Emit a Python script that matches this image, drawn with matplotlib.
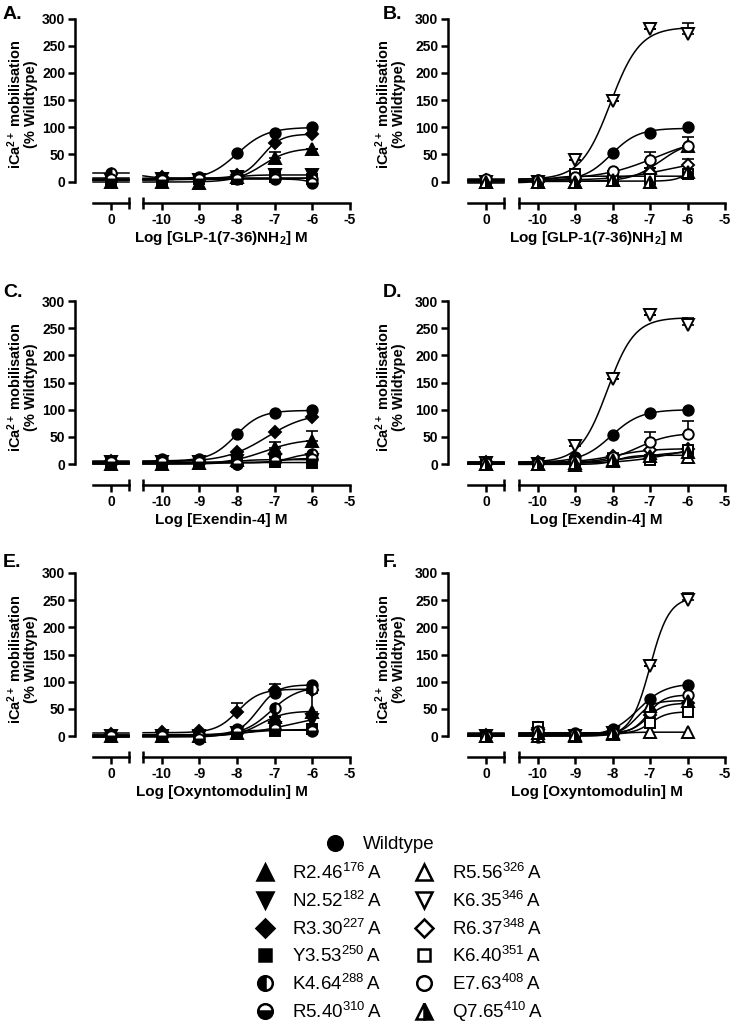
import numpy as np
import matplotlib
matplotlib.use('Agg')
import matplotlib.pyplot as plt

plt.rcParams['font.family'] = ['Liberation Sans', 'DejaVu Sans']
plt.rcParams['mathtext.fontset'] = 'custom'
plt.rcParams['mathtext.rm'] = 'Liberation Sans'
plt.rcParams['mathtext.bf'] = 'Liberation Sans:bold'
plt.rcParams['mathtext.it'] = 'Liberation Sans:italic'

########################################## Dados ##########################################
# log [agonist] M ; first value of each list is the basal point (plotted at "0")
log_conc = [-10, -9, -8, -7, -6]

mutants_filled = ['R2.46', 'N2.52', 'R3.30', 'Y3.53', 'K4.64', 'R5.40']
mutants_open = ['R5.56', 'K6.35', 'R6.37', 'K6.40', 'E7.63', 'Q7.65']
residue_num = {'R2.46': 176, 'N2.52': 182, 'R3.30': 227, 'Y3.53': 250, 'K4.64': 288, 'R5.40': 310,
               'R5.56': 326, 'K6.35': 346, 'R6.37': 348, 'K6.40': 351, 'E7.63': 408, 'Q7.65': 410}

# A - GLP-1(7-36)NH2, filled mutants
glp_filled = {
    'Wildtype': [2, 5, 8, 52, 90, 101],
    'R2.46': [0, 0, -3, 8, 43, 60],
    'N2.52': [3, 5, 3, 8, 12, 12],
    'R3.30': [5, 8, 5, 12, 70, 87],
    'Y3.53': [3, 3, 5, 5, 8, 5],
    'K4.64': [15, 5, 5, 8, 8, 5],
    'R5.40': [5, 3, 5, 5, 5, -3],
}
glp_filled_err = {'R2.46': [0, 0, 0, 0, 12, 0]}

# B - GLP-1(7-36)NH2, open mutants
glp_open = {
    'Wildtype': [2, 3, 5, 53, 90, 100],
    'R5.56': [0, 0, 0, 3, 25, 65],
    'K6.35': [0, 0, 40, 148, 280, 272],
    'R6.37': [2, 0, 5, 8, 15, 30],
    'K6.40': [-2, 0, 13, 8, 5, 13],
    'E7.63': [5, 3, 8, 20, 39, 66],
    'Q7.65': [0, 0, 0, 3, 0, 18],
}
glp_open_err = {'R5.56': [0, 0, 0, 0, 0, 17], 'K6.35': [0, 0, 0, 0, 0, 20],
                'R6.37': [0, 0, 0, 0, 0, 12], 'E7.63': [0, 0, 0, 0, 16, 0]}

# C - Exendin-4, filled mutants
ex4_filled = {
    'Wildtype': [2, 10, 10, 55, 94, 99],
    'R2.46': [0, 0, 2, 8, 30, 43],
    'N2.52': [3, 3, 3, 5, 8, 8],
    'R3.30': [5, 5, 5, 22, 58, 86],
    'Y3.53': [0, 0, 0, 3, 3, 2],
    'K4.64': [5, 3, 3, 0, 5, 18],
    'R5.40': [3, 3, 3, 0, 5, 10],
}
ex4_filled_err = {'R2.46': [0, 0, 0, 0, 10, 17], 'K4.64': [8, 0, 0, 0, 0, 0]}

# D - Exendin-4, open mutants
ex4_open = {
    'Wildtype': [3, 3, 12, 54, 94, 99],
    'R5.56': [0, 0, -2, 5, 20, 12],
    'K6.35': [2, 0, 34, 157, 274, 256],
    'R6.37': [3, 3, 5, 15, 25, 28],
    'K6.40': [-2, -2, 3, 10, 8, 25],
    'E7.63': [2, 2, 5, 12, 40, 55],
    'Q7.65': [0, 0, 2, 8, 15, 22],
}
ex4_open_err = {'K6.35': [0, 0, 0, 0, 0, 12], 'K6.40': [0, 0, 0, 0, 0, 7],
                'E7.63': [0, 0, 0, 0, 18, 25], 'Q7.65': [0, 0, 0, 12, 0, 0]}

# E - Oxyntomodulin, filled mutants
oxm_filled = {
    'Wildtype': [2, 2, 3, 12, 80, 94],
    'R2.46': [0, 0, 0, 5, 35, 45],
    'N2.52': [0, 0, 0, 5, 15, 30],
    'R3.30': [3, 8, 10, 44, 85, 85],
    'Y3.53': [0, -2, 0, 5, 10, 12],
    'K4.64': [2, 2, 0, 8, 52, 87],
    'R5.40': [0, 0, -5, 8, 12, 9],
}
oxm_filled_err = {'R3.30': [0, 0, 0, 17, 11, 0], 'R2.46': [0, 0, 0, 0, 0, 35]}

# F - Oxyntomodulin, open mutants
oxm_open = {
    'Wildtype': [0, -2, 5, 12, 69, 94],
    'R5.56': [0, 0, 0, 3, 7, 7],
    'K6.35': [0, 0, 0, 5, 129, 250],
    'R6.37': [2, 15, 2, 5, 38, 60],
    'K6.40': [-2, 17, 0, 3, 24, 44],
    'E7.63': [0, 10, 3, 5, 45, 75],
    'Q7.65': [0, 5, 2, 5, 55, 65],
}
oxm_open_err = {'K6.35': [0, 0, 0, 0, 0, 13]}

xlabel_glp = r'Log [GLP-1(7-36)NH$_{\mathbf{2}}$] M'
xlabel_ex4 = 'Log [Exendin-4] M'
xlabel_oxm = 'Log [Oxyntomodulin] M'
###########################################################################################

################################### Estilo dos simbolos ###################################
styles = {
    'Wildtype': dict(marker='o', ms=7.5, fillstyle='full', mfc='k'),
    'R2.46': dict(marker='^', ms=8, fillstyle='full', mfc='k'),
    'N2.52': dict(marker='v', ms=8, fillstyle='full', mfc='k'),
    'R3.30': dict(marker='D', ms=6.5, fillstyle='full', mfc='k'),
    'Y3.53': dict(marker='s', ms=6.5, fillstyle='full', mfc='k'),
    'K4.64': dict(marker='o', ms=7.5, fillstyle='left', mfc='k', mfcalt='w'),
    'R5.40': dict(marker='o', ms=7.5, fillstyle='bottom', mfc='k', mfcalt='w'),
    'R5.56': dict(marker='^', ms=8, fillstyle='full', mfc='w'),
    'K6.35': dict(marker='v', ms=8, fillstyle='full', mfc='w'),
    'R6.37': dict(marker='D', ms=6.5, fillstyle='full', mfc='w'),
    'K6.40': dict(marker='s', ms=6.5, fillstyle='full', mfc='w'),
    'E7.63': dict(marker='o', ms=7.5, fillstyle='full', mfc='w'),
    'Q7.65': dict(marker='^', ms=8, fillstyle='right', mfc='k', mfcalt='w'),
}
###########################################################################################


def fit_sigmoid(x, y):
    """Ajuste log(agonista) vs resposta: grade em logEC50 e Hill, minimos quadrados p/ bottom e top."""
    x = np.asarray(x, float)
    y = np.asarray(y, float)
    ec = np.arange(-10.5, -4.0, 0.02)
    hill = np.arange(0.6, 2.01, 0.1)
    E, Hh = np.meshgrid(ec, hill)
    E = E.ravel()[:, None]
    Hh = Hh.ravel()[:, None]
    s = 1.0 / (1.0 + 10 ** ((E - x[None, :]) * Hh))
    a = 1 - s
    aa, ab, bb = (a * a).sum(1), (a * s).sum(1), (s * s).sum(1)
    ay, by = (a * y).sum(1), (s * y).sum(1)
    det = aa * bb - ab ** 2
    det[np.abs(det) < 1e-12] = np.nan
    bot = (bb * ay - ab * by) / det
    top = (aa * by - ab * ay) / det
    sse = ((bot[:, None] * a + top[:, None] * s - y) ** 2).sum(1)
    i = np.nanargmin(sse)
    return bot[i], top[i], E[i, 0], Hh[i, 0]


def sigmoid(x, p):
    bot, top, ec, h = p
    return bot + (top - bot) / (1 + 10 ** ((ec - x) * h))


W, H = 732, 1023
fig = plt.figure(figsize=(W / 100, H / 100), dpi=100)

# colunas: eixo y, segmento "0", segmento log (px)
cols = [(75, 93, 129, 143, 350), (448, 468, 504, 519, 725)]
# linhas: y=300, y=0, eixo x (px)
rows = [(18.5, 181.5, 203), (301, 464, 485), (573, 736, 757)]
ylab_x = [22, 390]
letter_x = [3, 383]
letter_y = [6, 284, 554]
px2pt = 72 / 100

panels = [
    ('A.', 0, 0, glp_filled, glp_filled_err, xlabel_glp),
    ('B.', 1, 0, glp_open, glp_open_err, xlabel_glp),
    ('C.', 0, 1, ex4_filled, ex4_filled_err, xlabel_ex4),
    ('D.', 1, 1, ex4_open, ex4_open_err, xlabel_ex4),
    ('E.', 0, 2, oxm_filled, oxm_filled_err, xlabel_oxm),
    ('F.', 1, 2, oxm_open, oxm_open_err, xlabel_oxm),
]

lw_axis = 1.8
tick_fs = 10
for letter, c, r, data, errs, xlabel in panels:
    yx, s1a, s1b, s2a, s2b = cols[c]
    ytop, ybot, xax = rows[r]
    axc = fig.add_axes([s1a / W, 1 - ybot / H, (s1b - s1a) / W, (ybot - ytop) / H])
    axl = fig.add_axes([s2a / W, 1 - ybot / H, (s2b - s2a) / W, (ybot - ytop) / H], sharey=axc)

    axc.set_xlim(-0.5, 0.5)
    axl.set_xlim(-10.5, -5)
    axc.set_ylim(0, 300)

    for ax in (axc, axl):
        for sp in ('top', 'right'):
            ax.spines[sp].set_visible(False)
        ax.spines['bottom'].set_position(('outward', (xax - ybot) * px2pt))
        ax.spines['bottom'].set_linewidth(lw_axis)
        ax.spines['left'].set_linewidth(lw_axis)
        ax.patch.set_visible(False)
        ax.tick_params(axis='x', which='major', direction='out', length=5, width=lw_axis,
                       labelsize=tick_fs, pad=2)
        ax.tick_params(axis='x', which='minor', direction='inout', length=8, width=lw_axis)

    axl.spines['left'].set_visible(False)
    axl.tick_params(axis='y', left=False, labelleft=False)
    axc.spines['left'].set_position(('outward', (s1a - yx) * px2pt))
    axc.spines['left'].set_bounds(0, 300)
    axc.set_yticks(np.arange(0, 301, 50))
    axc.tick_params(axis='y', direction='out', length=5, width=lw_axis, labelsize=tick_fs, pad=2)

    axc.set_xticks([0])
    axc.set_xticks([0.5], minor=True)
    axl.set_xticks([-10, -9, -8, -7, -6, -5])
    axl.set_xticks([-10.5], minor=True)
    axc.set_xticklabels(['0'], fontweight='bold')
    axl.set_xticklabels(['-10', '-9', '-8', '-7', '-6', '-5'], fontweight='bold')
    for t in axc.get_yticklabels():
        t.set_fontweight('bold')

    # curvas e pontos
    for name, vals in data.items():
        st = styles[name]
        x_all = [-13] + log_conc
        p = fit_sigmoid(x_all, vals)
        xc = np.linspace(-10.5, -6, 200)
        axl.plot(xc, sigmoid(xc, p), color='k', lw=1.1, zorder=2, clip_on=False)
        axc.plot([-0.5, 0.5], [sigmoid(-13, p)] * 2, color='k', lw=1.1, zorder=2, clip_on=False)

        if name in errs:
            e = errs[name]
            if e[0] > 0:
                axc.errorbar([0], [vals[0]], yerr=[[0], [e[0]]], fmt='none', ecolor='k',
                             elinewidth=1.2, capsize=4.5, capthick=1.2, zorder=3, clip_on=False)
            axl.errorbar(log_conc, vals[1:], yerr=[np.zeros(5), e[1:]], fmt='none', ecolor='k',
                         elinewidth=1.2, capsize=4.5, capthick=1.2, zorder=3, clip_on=False)

        kw = dict(ls='none', mec='k', mew=1.4, zorder=4, clip_on=False)
        kw.update(st)
        axc.plot([0], [vals[0]], **kw)
        axl.plot(log_conc, vals[1:], **kw)

    # textos
    fig.text(letter_x[c] / W, 1 - letter_y[r] / H, letter, fontsize=14,
             fontweight='bold', va='top', ha='left')
    fig.text(ylab_x[c] / W, 1 - (ytop + 86) / H, 'iCa$^{\\mathbf{2+}}$ mobilisation\n(% Wildtype)',
             rotation=90, ha='center', va='center', fontsize=10.5, fontweight='bold',
             multialignment='center', linespacing=1.0)
    fig.text((s1a + s2b) / 2 / W, 1 - (xax + 35) / H, xlabel, ha='center', va='center',
             fontsize=11, fontweight='bold')

# legenda (manual, estilo Prism)
lax = fig.add_axes([0, 0, 1, 1])
lax.set_xlim(0, W)
lax.set_ylim(H, 0)
lax.axis('off')

leg_fs = 13.5
leg_kw = dict(ls='none', mec='k', mew=1.8, clip_on=False)
st = dict(styles['Wildtype'])
st['ms'] = st['ms'] * 1.4
lax.plot([335], [843], **leg_kw, **st)
lax.text(363, 843 + 6, 'Wildtype', fontsize=leg_fs, va='baseline', ha='left')
for j, group in enumerate([mutants_filled, mutants_open]):
    mx = [265, 424][j]
    tx = [292, 452][j]
    for i, name in enumerate(group):
        yy = 872 + i * 27.8
        st = dict(styles[name])
        st['ms'] = st['ms'] * 1.4
        lax.plot([mx], [yy], **leg_kw, **st)
        lax.text(tx, yy + 7, name + '$^{' + str(residue_num[name]) + '}\\,$A', fontsize=leg_fs,
                 va='baseline', ha='left')

fig.savefig('out.png', dpi=100)
